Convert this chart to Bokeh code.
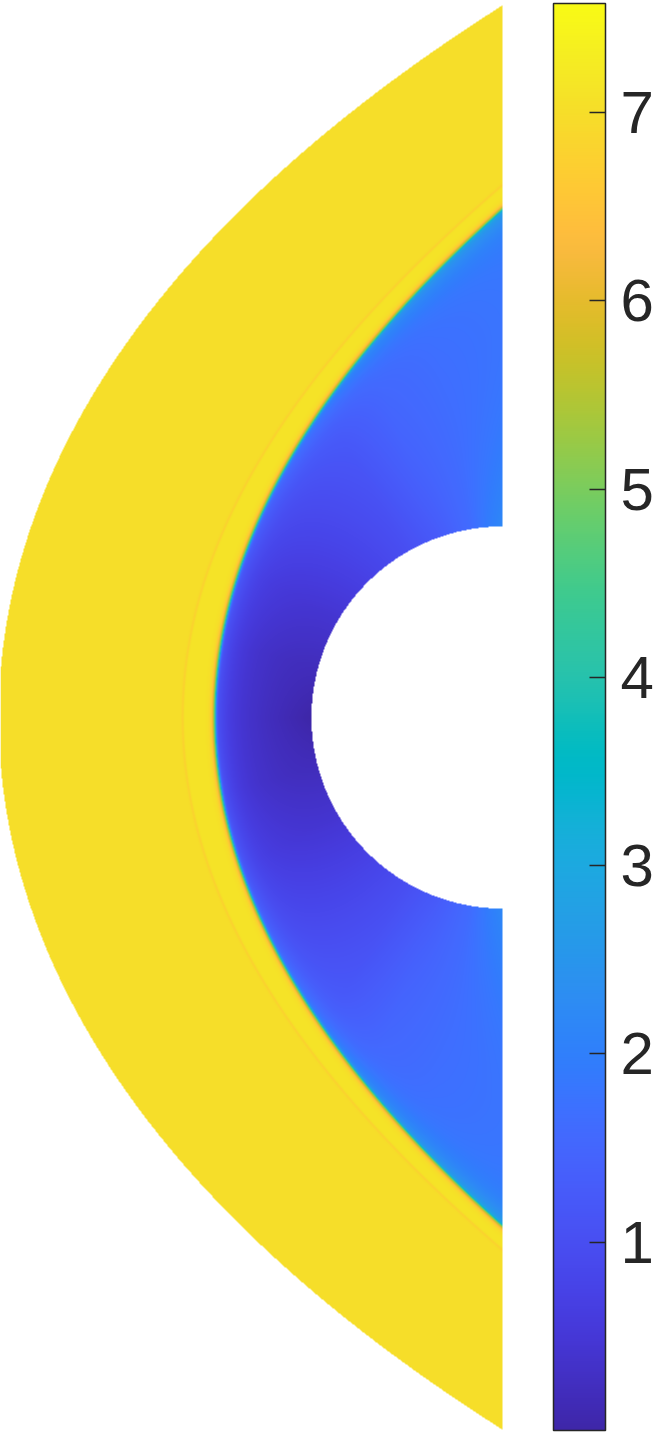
import numpy as np
from bokeh.plotting import figure
from bokeh.models import LinearColorMapper, ColorBar, FixedTicker, Range1d
from bokeh.embed import file_html
from bokeh.resources import INLINE

# ---------------- data (lengths in cylinder radii) -------------
cbar_low, cbar_high = 0.0, 7.58
cbar_ticks = [1, 2, 3, 4, 5, 6, 7]
M_inf = 7.0                      # free-stream value (yellow)

# outer boundary of the computational domain: x at |y|
outer_y = [0.0, 0.487, 0.832, 1.236, 1.565, 1.916, 2.351, 2.770, 3.241, 3.733]
outer_x = [-2.618, -2.592, -2.524, -2.403, -2.209, -2.021, -1.649, -1.251, -0.690, 0.0]

# bow shock: x at |y|
shock_y = [0.0, 0.4, 0.8, 1.2, 1.6, 2.0, 2.4, 2.665]
shock_x = [-1.505, -1.471, -1.367, -1.196, -0.958, -0.652, -0.280, 0.0]

# faint wave ahead of the shock: x at |y|
wave_y = [0.0, 0.8, 1.6, 2.0, 2.4, 2.79]
wave_x = [-1.670, -1.535, -1.110, -0.800, -0.415, 0.0]

# values in the shock layer vs. angle from the stagnation line (deg)
theta_deg = [0, 15, 30, 45, 60, 70, 80, 90]
M_wall    = [0.0, 0.20, 0.42, 0.70, 1.00, 1.25, 1.60, 2.20]
M_mid     = [0.25, 0.30, 0.50, 0.80, 1.10, 1.45, 1.65, 1.80]
M_edge    = [0.55, 0.60, 0.75, 1.00, 1.30, 1.55, 1.75, 1.95]
M_post    = [1.20, 1.25, 1.40, 1.70, 2.10, 2.45, 2.70, 2.90]

PARULA64 = [
    (0.2422, 0.1504, 0.6603), (0.2504, 0.1650, 0.7076), (0.2578, 0.1818, 0.7511), (0.2647, 0.1978, 0.7952),
    (0.2706, 0.2147, 0.8364), (0.2751, 0.2342, 0.8710), (0.2783, 0.2559, 0.8991), (0.2803, 0.2782, 0.9221),
    (0.2813, 0.3006, 0.9414), (0.2810, 0.3228, 0.9579), (0.2795, 0.3447, 0.9717), (0.2760, 0.3667, 0.9829),
    (0.2699, 0.3892, 0.9906), (0.2602, 0.4123, 0.9952), (0.2440, 0.4358, 0.9988), (0.2206, 0.4603, 0.9973),
    (0.1963, 0.4847, 0.9892), (0.1834, 0.5074, 0.9798), (0.1786, 0.5289, 0.9682), (0.1764, 0.5499, 0.9520),
    (0.1687, 0.5703, 0.9359), (0.1540, 0.5902, 0.9218), (0.1460, 0.6091, 0.9079), (0.1380, 0.6276, 0.8973),
    (0.1248, 0.6459, 0.8883), (0.1113, 0.6635, 0.8763), (0.0952, 0.6798, 0.8598), (0.0689, 0.6948, 0.8394),
    (0.0297, 0.7082, 0.8163), (0.0036, 0.7203, 0.7917), (0.0067, 0.7312, 0.7660), (0.0433, 0.7411, 0.7394),
    (0.0964, 0.7500, 0.7120), (0.1408, 0.7584, 0.6842), (0.1717, 0.7670, 0.6554), (0.1938, 0.7758, 0.6251),
    (0.2161, 0.7843, 0.5923), (0.2470, 0.7918, 0.5567), (0.2906, 0.7973, 0.5188), (0.3406, 0.8008, 0.4789),
    (0.3909, 0.8029, 0.4354), (0.4456, 0.8024, 0.3909), (0.5044, 0.7993, 0.3480), (0.5616, 0.7942, 0.3045),
    (0.6174, 0.7876, 0.2612), (0.6720, 0.7793, 0.2227), (0.7242, 0.7698, 0.1910), (0.7738, 0.7598, 0.1646),
    (0.8203, 0.7498, 0.1535), (0.8634, 0.7406, 0.1596), (0.9035, 0.7330, 0.1774), (0.9393, 0.7288, 0.2100),
    (0.9728, 0.7298, 0.2394), (0.9956, 0.7434, 0.2371), (0.9970, 0.7659, 0.2199), (0.9952, 0.7893, 0.2028),
    (0.9892, 0.8136, 0.1885), (0.9786, 0.8386, 0.1766), (0.9676, 0.8639, 0.1643), (0.9610, 0.8890, 0.1537),
    (0.9597, 0.9135, 0.1423), (0.9628, 0.9373, 0.1265), (0.9691, 0.9606, 0.1064), (0.9769, 0.9839, 0.0805),
]

# ---------------- layout ----------------
W_PX, H_PX = 658, 1434
S = 191.0            # screen px per cylinder radius
CX_PX, CY_PX = 502, 717
x0, x1 = -CX_PX / S, (W_PX - CX_PX) / S
y0, y1 = -CY_PX / S, (H_PX - CY_PX) / S


def make_palette(n=768):
    base = np.array(PARULA64)
    t = np.linspace(0, 1, len(base))
    tt = np.linspace(0, 1, n)
    rgb = np.stack([np.interp(tt, t, base[:, k]) for k in range(3)], 1)
    return ["#%02x%02x%02x" % tuple(int(round(c * 255)) for c in row) for row in rgb]


def fit_even(ys, xs, deg=2):
    ys = np.asarray(ys, float)
    xs = np.asarray(xs, float)
    c = np.polyfit(ys ** 2, xs, deg)
    dc = np.polyder(c)
    ymax = ys.max()
    end_slope = np.polyval(dc, ymax ** 2) * 2 * ymax

    def f(y):
        y = np.asarray(y, float)
        yy = np.minimum(y, ymax)
        return np.polyval(c, yy ** 2) + end_slope * np.maximum(y - ymax, 0)

    def fp(y):
        y = np.asarray(y, float)
        yy = np.minimum(y, ymax)
        return np.polyval(dc, yy ** 2) * 2 * yy

    return f, fp


# ---------------- field on the screen grid ----------------
nx, ny = CX_PX, H_PX
xc = x0 + (np.arange(nx) + 0.5) / S
yc = y0 + (np.arange(ny) + 0.5) / S
X, Y = np.meshgrid(xc, yc)
AY = np.abs(Y)
R = np.hypot(X, Y)
TH = np.degrees(np.arctan2(AY, -X))

xb, _ = fit_even(outer_y, outer_x, 2)
xs_f, xs_p = fit_even(shock_y, shock_x, 2)
xw_f, xw_p = fit_even(wave_y, wave_x, 2)

# normal distances (positive = upstream)
hn = (xs_f(AY) - X) / np.sqrt(1 + xs_p(AY) ** 2)
hw = (xw_f(AY) - X) / np.sqrt(1 + xw_p(AY) ** 2)

# shock radius along rays from the cylinder centre
yd = np.linspace(0, 3.6, 3000)
xd = xs_f(yd)
th_s = np.degrees(np.arctan2(yd, -xd))
r_s = np.hypot(xd, yd)
rs = np.interp(TH, th_s, r_s)
n = np.clip((R - 1) / (rs - 1), 0, 1)

Mw = np.interp(TH, theta_deg, M_wall)
Mm = np.interp(TH, theta_deg, M_mid)
Me = np.interp(TH, theta_deg, M_edge)
Mp = np.interp(TH, theta_deg, M_post)
Mc = 2 * Mm - 0.5 * (Mw + Me)
base = Mw * (1 - n) ** 2 + 2 * Mc * n * (1 - n) + Me * n ** 2
M_in = base + (Mp - Me) * np.exp(np.minimum(hn, 0) / 0.06)

sig = lambda z: 0.5 * (1 + np.tanh(z))
M_out = (M_inf - 0.28 * np.exp(-(hw / 0.006) ** 2)
         + 0.10 * sig(-hw / 0.004) * sig(hn / 0.01))

delta = np.where(hn > 0, 0.017, 0.008)
w = sig(hn / delta)
M = w * M_out + (1 - w) * M_in

inside = (X <= 0) & (R >= 1) & (X >= xb(AY))
M = np.where(inside, M, np.nan).astype(np.float32)

# ---------------- figure ----------------
mapper = LinearColorMapper(palette=make_palette(), low=cbar_low, high=cbar_high,
                           nan_color="rgba(0, 0, 0, 0)")

p = figure(width=W_PX, height=H_PX, x_range=Range1d(x0, x1), y_range=Range1d(y0, y1),
           output_backend="svg", toolbar_location=None, min_border=0,
           x_axis_type=None, y_axis_type=None, outline_line_color=None,
           background_fill_color="white", border_fill_color="white")

p.image(image=[M], x=x0, y=y0, dw=nx / S, dh=ny / S, color_mapper=mapper)

cb = ColorBar(color_mapper=mapper, location=(553, 4), width=52, height=1427, padding=0,
              ticker=FixedTicker(ticks=cbar_ticks),
              major_label_text_font="Liberation Sans", major_label_text_font_size="60px",
              major_label_text_color="#262626",
              major_tick_in=16, major_tick_out=0, major_tick_line_color="#262626",
              major_tick_line_width=1.5, minor_tick_line_color=None,
              bar_line_color="#262626", bar_line_width=1.5, label_standoff=15,
              background_fill_alpha=0, border_line_color=None)
p.add_layout(cb, "center")

open("out.html", "w").write(file_html(p, INLINE))
